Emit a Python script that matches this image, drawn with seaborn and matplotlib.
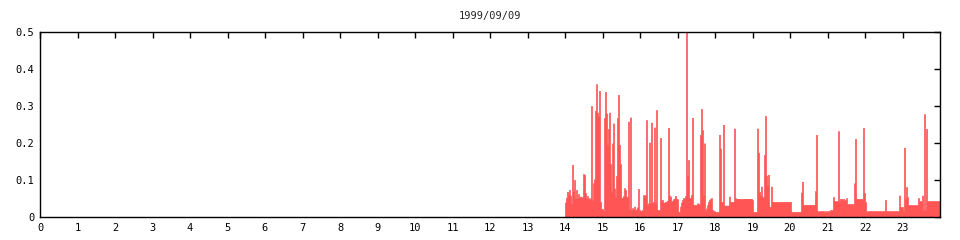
import numpy as np
import pandas as pd
import matplotlib
matplotlib.use("Agg")
import matplotlib.pyplot as plt
import seaborn as sns

title = "1999/09/09"
start_hour = 14.0
end_hour = 24.0
xtick_labels = [str(h) for h in range(24)]
ytick_values = [0, 0.1, 0.2, 0.3, 0.4, 0.5]
ytick_labels = ["0", "0.1", "0.2", "0.3", "0.4", "0.5"]

# one value per sample interval from 14:00 to 24:00
values = [
    0.039, 0.052, 0.068, 0.061, 0.073, 0.058, 0.036, 0.141, 0.069, 0.100,
    0.050, 0.073, 0.050, 0.062, 0.053, 0.055, 0.052, 0.054, 0.116, 0.114,
    0.065, 0.050, 0.057, 0.048, 0.051, 0.049, 0.300, 0.046, 0.091, 0.102,
    0.287, 0.359, 0.282, 0.273, 0.341, 0.041, 0.022, 0.022, 0.016, 0.268,
    0.338, 0.280, 0.195, 0.238, 0.282, 0.143, 0.069, 0.199, 0.253, 0.077,
    0.055, 0.111, 0.268, 0.330, 0.195, 0.143, 0.052, 0.052, 0.057, 0.078,
    0.073, 0.055, 0.055, 0.258, 0.022, 0.269, 0.019, 0.024, 0.021, 0.028,
    0.019, 0.021, 0.026, 0.076, 0.019, 0.017, 0.016, 0.019, 0.059, 0.059,
    0.059, 0.262, 0.033, 0.037, 0.201, 0.037, 0.255, 0.037, 0.041, 0.242,
    0.037, 0.289, 0.019, 0.019, 0.019, 0.214, 0.046, 0.046, 0.039, 0.039,
    0.041, 0.041, 0.044, 0.241, 0.058, 0.055, 0.041, 0.044, 0.048, 0.050,
    0.057, 0.049, 0.048, 0.014, 0.014, 0.028, 0.039, 0.046, 0.051, 0.050,
    0.057, 0.500, 0.114, 0.154, 0.051, 0.051, 0.060, 0.268, 0.033, 0.033,
    0.033, 0.033, 0.037, 0.035, 0.035, 0.222, 0.292, 0.235, 0.060, 0.199,
    0.017, 0.023, 0.032, 0.041, 0.046, 0.049, 0.051, 0.019, 0.016, 0.016,
    0.012, 0.014, 0.014, 0.014, 0.222, 0.185, 0.041, 0.041, 0.249, 0.031,
    0.031, 0.031, 0.031, 0.031, 0.055, 0.041, 0.041, 0.041, 0.041, 0.239,
    0.051, 0.049, 0.049, 0.048, 0.049, 0.049, 0.047, 0.049, 0.049, 0.048,
    0.049, 0.049, 0.048, 0.049, 0.049, 0.048, 0.049, 0.046, 0.014, 0.014,
    0.014, 0.014, 0.239, 0.174, 0.068, 0.058, 0.082, 0.055, 0.052, 0.168,
    0.273, 0.112, 0.086, 0.114, 0.028, 0.028, 0.082, 0.041, 0.041, 0.041,
    0.041, 0.041, 0.041, 0.041, 0.041, 0.041, 0.041, 0.041, 0.041, 0.041,
    0.041, 0.041, 0.041, 0.041, 0.041, 0.041, 0.014, 0.014, 0.014, 0.014,
    0.014, 0.014, 0.014, 0.014, 0.014, 0.014, 0.066, 0.095, 0.033, 0.033,
    0.033, 0.033, 0.031, 0.033, 0.033, 0.033, 0.033, 0.033, 0.033, 0.033,
    0.070, 0.222, 0.016, 0.016, 0.016, 0.016, 0.016, 0.016, 0.016, 0.014,
    0.016, 0.014, 0.016, 0.016, 0.016, 0.019, 0.019, 0.019, 0.054, 0.043,
    0.043, 0.043, 0.043, 0.232, 0.044, 0.049, 0.049, 0.046, 0.049, 0.046,
    0.046, 0.051, 0.035, 0.035, 0.035, 0.035, 0.035, 0.035, 0.035, 0.091,
    0.211, 0.049, 0.049, 0.049, 0.049, 0.049, 0.049, 0.049, 0.241, 0.065,
    0.041, 0.014, 0.016, 0.016, 0.016, 0.016, 0.016, 0.016, 0.016, 0.016,
    0.016, 0.016, 0.016, 0.016, 0.016, 0.016, 0.016, 0.016, 0.016, 0.016,
    0.046, 0.016, 0.016, 0.016, 0.016, 0.016, 0.016, 0.016, 0.016, 0.016,
    0.016, 0.016, 0.016, 0.016, 0.058, 0.027, 0.027, 0.027, 0.016, 0.187,
    0.048, 0.081, 0.054, 0.032, 0.032, 0.032, 0.032, 0.032, 0.032, 0.032,
    0.032, 0.032, 0.032, 0.051, 0.043, 0.043, 0.043, 0.058, 0.019, 0.278,
    0.019, 0.238, 0.043, 0.043, 0.043, 0.043, 0.043, 0.043, 0.043, 0.043,
    0.043, 0.043, 0.043, 0.043, 0.043,
]

sns.set_style("white")
plt.rcParams["font.family"] = ["DejaVu Sans Mono", "DejaVu Sans"]

n = len(values)
edges = np.linspace(start_hour, end_hour, n + 1)
centers = (edges[:-1] + edges[1:]) / 2
df = pd.DataFrame({"hour": centers, "value": values})

fig = plt.figure(figsize=(9.6, 2.4), dpi=100)
ax = fig.add_axes([40 / 960, 23 / 240, 900 / 960, 185 / 240])

sns.histplot(data=df, x="hour", weights="value", bins=list(edges),
             element="step", fill=True, color="#ff5555", alpha=1.0,
             linewidth=0, ax=ax)

for coll in ax.collections:
    coll.set_antialiased(False)
    coll.set_edgecolor("#ff5555")
    coll.set_facecolor("#ff5555")
    coll.set_alpha(1.0)
    coll.set_linewidth(0.5)

ax.set_xlim(0, 24)
ax.set_ylim(0, 0.5)
ax.set_xticks(range(24))
ax.set_xticklabels(xtick_labels)
ax.set_yticks(ytick_values)
ax.set_yticklabels(ytick_labels)
ax.set_xlabel("")
ax.set_ylabel("")
ax.tick_params(direction="in", length=4, width=1, top=True, right=True,
               labelsize=7.5, pad=4, colors="black")
for s in ax.spines.values():
    s.set_linewidth(1)
    s.set_color("black")
    s.set_zorder(5)
ax.set_title(title, fontsize=7.5, pad=9)

fig.savefig("out.png", dpi=100)
